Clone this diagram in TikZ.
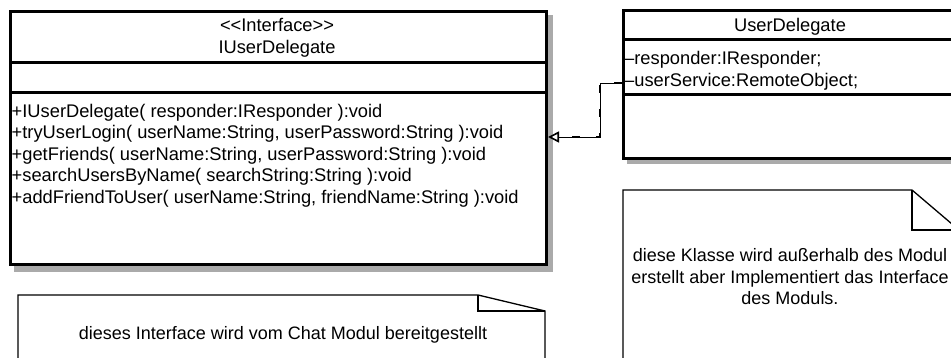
\documentclass[tikz,border=0pt]{standalone}
\usepackage{fontspec}
\setmainfont{Liberation Sans}[Ligatures=TeXOff]
\usetikzlibrary{arrows.meta}
\definecolor{shadowgray}{HTML}{AAAAAA}
\begin{document}
\begin{tikzpicture}[x=1pt,y=-1pt,
  classbox/.style={draw=black, line width=3pt, fill=white, inner sep=0pt, rectangle, anchor=north west},
  sepline/.style={line width=3pt},
  notebox/.style={draw=black, line width=1.3pt, fill=white, line join=miter},
  foldline/.style={draw=black, line width=1.3pt},
  txt/.style={font=\fontsize{18.3}{21}\selectfont, inner sep=0pt, anchor=base},
  optxt/.style={txt, anchor=base west},
  notetxt/.style={font=\fontsize{18}{20}\selectfont, inner sep=0pt, anchor=base},
  depthin/.style={line width=0.8pt, -{Triangle[open, length=11pt, width=11pt, line width=1.6pt]}},
  depdash/.style={line width=2.2pt, dash pattern=on 8pt off 16pt, shorten >=12pt}
]
\useasboundingbox (0,0) rectangle (951,358);

% shadows
\fill[shadowgray] (14,15) rectangle (553,272);
\fill[shadowgray] (627,15) rectangle (966,164);

% interface class
\node[classbox, minimum width=536pt, minimum height=253pt] (iface) at (9,10) {};
\draw[sepline] (9,63) -- (545,63);
\draw[sepline] (9,93) -- (545,93);
\node[txt] (ist) at (277,31.5) {<<Interface>>};
\node[txt] (inm) at (277,53.5) {IUserDelegate};
\node[optxt] (op1) at (11.5,117.5) {+IUserDelegate( responder:IResponder ):void};
\node[optxt] (op2) at (11.5,139) {+tryUserLogin( userName:String, userPassword:String ):void};
\node[optxt] (op3) at (11.5,160.5) {+getFriends( userName:String, userPassword:String ):void};
\node[optxt] (op4) at (11.5,182) {+searchUsersByName( searchString:String ):void};
\node[optxt] (op5) at (11.5,203.5) {+addFriendToUser( userName:String, friendName:String ):void};

% user delegate class
\node[classbox, minimum width=336pt, minimum height=148pt] (ud) at (622,9) {};
\draw[sepline] (622,40) -- (958,40);
\draw[sepline] (622,95) -- (958,95);
\node[txt] (unm) at (790,31.5) {UserDelegate};
\node[optxt] (at1) at (624,64.5) {–responder:IResponder;};
\node[optxt] (at2) at (624,86.5) {–userService:RemoteObject;};

% realization connector
\coordinate (bend) at (600,83);
\coordinate (low) at (600,137);
\draw[depthin] (ud.west |- bend) -- (bend) -- (low) -- (iface.east |- low);
\draw[depdash] (ud.west |- bend) -- (bend) -- (low) -- (iface.east |- low);

% note 1
\draw[notebox] (18,370) -- (18,295) -- (478,295) -- (545,311) -- (545,370);
\draw[foldline] (478,295) -- (478,311) -- (545,311);
\node[notetxt] (n1) at (283,339) {dieses Interface wird vom Chat Modul bereitgestellt};

% note 2
\draw[notebox] (623,370) -- (623,190) -- (912,190) -- (959,230) -- (959,370);
\draw[foldline] (912,190) -- (912,230) -- (959,230);
\node[notetxt] (n2a) at (790,261.5) {diese Klasse wird außerhalb des Modul};
\node[notetxt] (n2b) at (790,283.5) {erstellt aber Implementiert das Interface};
\node[notetxt] (n2c) at (790,304.5) {des Moduls.};
\end{tikzpicture}
\end{document}
